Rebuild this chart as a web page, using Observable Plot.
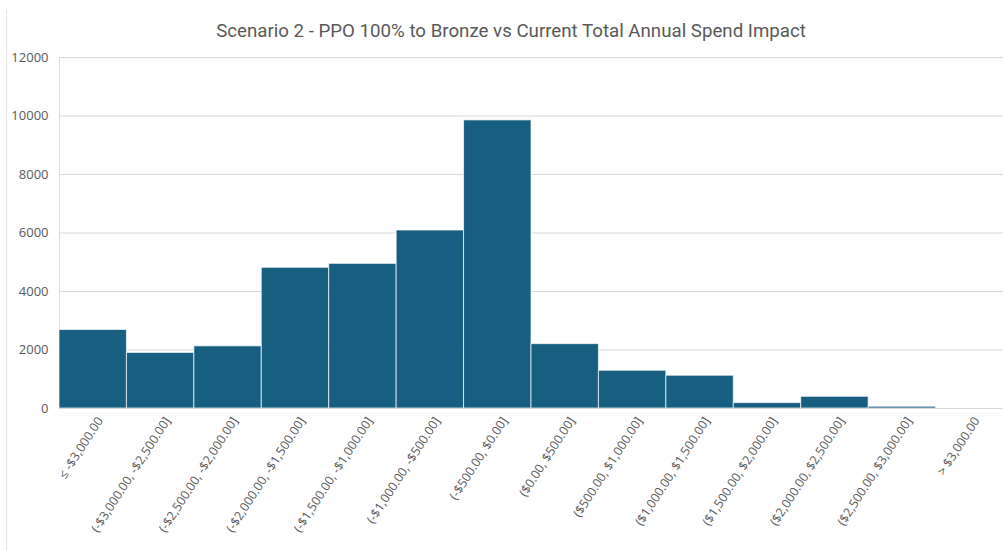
<!DOCTYPE html>
<html>
<head>
<meta charset="utf-8">
<script src="https://cdn.jsdelivr.net/npm/d3@7"></script>
<script src="https://cdn.jsdelivr.net/npm/@observablehq/plot@0.6"></script>
<style>
  html, body { margin: 0; padding: 0; background: #fff; }
  #wrap { position: relative; width: 1004px; height: 551px; overflow: hidden; background: #fff; }
  #border { position: absolute; left: 6px; top: 10px; bottom: 0; width: 0; border-left: 1px solid #e3e3e3; z-index: 2; }
  #title { position: absolute; left: 0; top: 19px; width: 1022px; text-align: center;
           font-family: Roboto, "Open Sans", sans-serif; font-size: 18.7px; color: #595959; line-height: 24px; }
  #chart { position: absolute; left: 0; top: 45px; }
</style>
</head>
<body>
<div id="wrap">
  <div id="title">Scenario 2 - PPO 100% to Bronze vs Current Total Annual Spend Impact</div>
  <div id="chart"></div>
  <div id="border"></div>
</div>
<script>
const categories = [
  "≤ -$3,000.00",
  "(-$3,000.00, -$2,500.00]",
  "(-$2,500.00, -$2,000.00]",
  "(-$2,000.00, -$1,500.00]",
  "(-$1,500.00, -$1,000.00]",
  "(-$1,000.00, -$500.00]",
  "(-$500.00, $0.00]",
  "($0.00, $500.00]",
  "($500.00, $1,000.00]",
  "($1,000.00, $1,500.00]",
  "($1,500.00, $2,000.00]",
  "($2,000.00, $2,500.00]",
  "($2,500.00, $3,000.00]",
  "> $3,000.00"
];
const counts = [2685, 1900, 2125, 4810, 4945, 6085, 9850, 2200, 1290, 1120, 185, 400, 60, 0];
const yTicks = [0, 2000, 4000, 6000, 8000, 10000, 12000];

const data = categories.map((c, i) => ({bin: c, count: counts[i]}));

const chart = Plot.plot({
  width: 1004,
  height: 506,
  marginTop: 12,
  marginLeft: 59,
  marginRight: 1,
  marginBottom: 143,
  style: {fontFamily: "'Open Sans', sans-serif", fontSize: "12px", color: "#595959", background: "transparent"},
  x: {domain: categories, padding: 0, round: false, label: null},
  y: {domain: [0, 12000], label: null},
  marks: [
    Plot.gridY(yTicks, {stroke: "#d9d9d9", strokeOpacity: 1}),
    Plot.frame({anchor: "left", stroke: "#d9d9d9"}),
    Plot.barY(data, {x: "bin", y: "count", fill: "#175f81", stroke: "#ffffff", strokeWidth: 1, strokeOpacity: 0.7}),
    Plot.ruleY([0], {stroke: "#d9d9d9"}),
    Plot.axisY(yTicks, {tickSize: 0, tickPadding: 11, fontSize: 13, fill: "#595959", label: null, tickFormat: d => String(d)}),
    Plot.axisX({tickSize: 0, tickRotate: -57, textAnchor: "end", tickPadding: 10, dx: 7, fontSize: 12.4, fill: "#595959", label: null})
  ]
});
document.getElementById("chart").appendChild(chart);
</script>
</body>
</html>
